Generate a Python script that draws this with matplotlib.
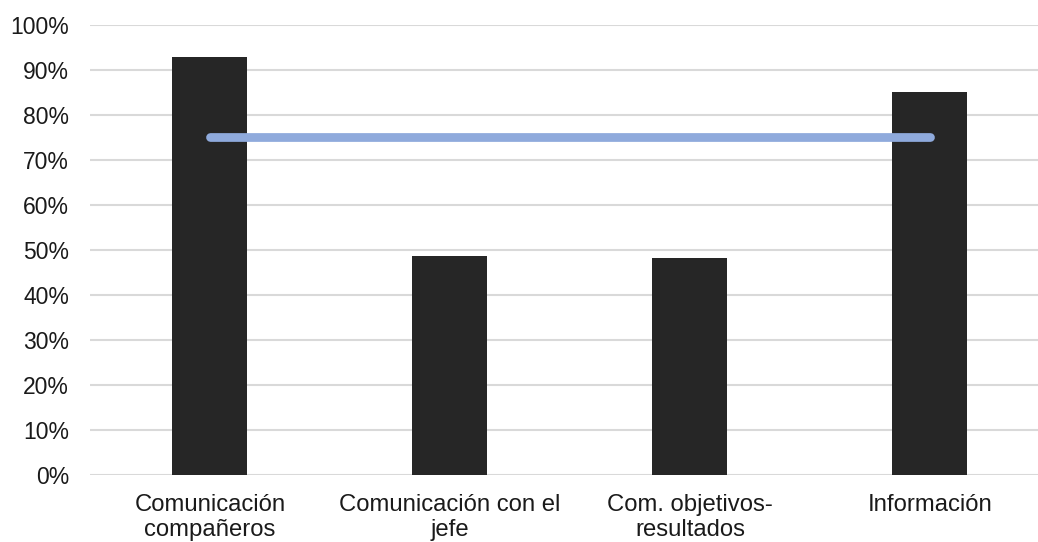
import matplotlib
matplotlib.use("Agg")
import matplotlib.pyplot as plt
from matplotlib.ticker import PercentFormatter

categories = ["Comunicación\ncompañeros", "Comunicación con el\njefe",
              "Com. objetivos-\nresultados", "Información"]
values = [0.927, 0.487, 0.482, 0.850]
target = [0.75, 0.75, 0.75, 0.75]
yticks = [i / 10 for i in range(11)]

plt.rcParams["font.family"] = ["Liberation Sans", "DejaVu Sans"]

fig = plt.figure(figsize=(10.38, 5.42), dpi=100)
ax = fig.add_axes([90 / 1038, 67 / 542, 960 / 1038, 450.5 / 542])

x = range(len(categories))
ax.bar(x, values, width=0.3125, color="#262626", zorder=3)
ax.plot(x, target, color="#8FAADC", linewidth=6.3, solid_capstyle="round", zorder=4)

ax.set_ylim(0, 1)
ax.set_xlim(-0.5, 3.5)
ax.set_yticks(yticks)
ax.yaxis.set_major_formatter(PercentFormatter(1.0, decimals=0))
ax.set_xticks(list(x))
ax.set_xticklabels(categories, fontsize=17.2, linespacing=1.15, color="#1a1a1a")
ax.tick_params(axis="y", labelsize=16.5, length=0, pad=15, labelcolor="#1a1a1a")
ax.tick_params(axis="x", length=0, pad=14)
ax.grid(axis="y", color="#D9D9D9", linewidth=1.5, zorder=0)
for s in ax.spines.values():
    s.set_visible(False)

fig.savefig("out.png", dpi=100)
